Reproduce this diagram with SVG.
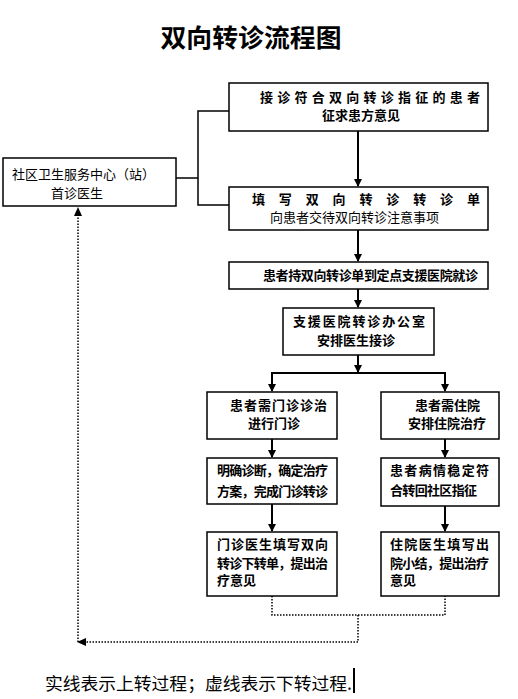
<svg xmlns="http://www.w3.org/2000/svg" width="518" height="699" viewBox="0 0 518 699">
<style>
.box{fill:#fff;stroke:#000;stroke-width:1.5}
.t{font-family:"Liberation Sans","Noto Sans CJK SC",sans-serif;font-size:13px;font-weight:bold;fill:#000;dominant-baseline:central}
.ln{fill:none;stroke:#000;stroke-width:1.5}
.ar{fill:none;stroke:#000;stroke-width:2}
.dt{fill:none;stroke:#000;stroke-width:1.5;stroke-dasharray:1.5 1.5}
</style>
<defs>
<marker id="ah" markerWidth="8" markerHeight="8" refX="7" refY="4" orient="auto" markerUnits="userSpaceOnUse">
<path d="M0,0 L8,4 L0,8 Z" fill="#000"/>
</marker>
</defs>
<rect width="518" height="699" fill="#fff"/>
<text x="251" y="36" text-anchor="middle" style="font-family:'Noto Sans CJK SC',sans-serif;font-size:25px;font-weight:bold;dominant-baseline:central" textLength="181" lengthAdjust="spacingAndGlyphs">双向转诊流程图</text>

<g id="connectors">
<polyline class="ln" points="176,178 198,178"/>
<polyline class="ln" points="229,111 198,111 198,205 229,205"/>
<line class="ar" x1="358" y1="131" x2="358" y2="186" marker-end="url(#ah)"/>
<line class="ar" x1="358" y1="230" x2="358" y2="261" marker-end="url(#ah)"/>
<line class="ar" x1="358" y1="289" x2="358" y2="307" marker-end="url(#ah)"/>
<line class="ar" x1="358" y1="355" x2="358" y2="372" marker-end="url(#ah)"/>
<polyline class="ar" points="272,391 272,373 445,373 445,391"/>
<line class="ar" x1="272" y1="380" x2="272" y2="391" marker-end="url(#ah)"/>
<line class="ar" x1="445" y1="380" x2="445" y2="391" marker-end="url(#ah)"/>
<line class="ar" x1="272" y1="439" x2="272" y2="457" marker-end="url(#ah)"/>
<line class="ar" x1="445" y1="439" x2="445" y2="457" marker-end="url(#ah)"/>
<line class="ar" x1="272" y1="504" x2="272" y2="531" marker-end="url(#ah)"/>
<line class="ar" x1="445" y1="506" x2="445" y2="531" marker-end="url(#ah)"/>
<polyline class="dt" points="272,596 272,615 445,615 445,596"/>
<polyline class="dt" points="358,615 358,642 79,642"/>
<path d="M86,638 L77,642 L86,646 Z" fill="#000"/>
<line class="dt" x1="78" y1="642" x2="78" y2="214"/>
<path d="M74,216 L78,207 L82,216 Z" fill="#000"/>
</g>

<g id="community">
<rect class="box" x="3" y="158" width="173" height="48"/>
<text class="t" x="12" y="174" style="font-weight:normal">社区卫生服务中心（站）</text>
<text class="t" x="77" y="193" text-anchor="middle" style="font-weight:normal">首诊医生</text>
</g>

<g id="n1">
<rect class="box" x="229" y="83" width="259" height="48"/>
<text class="t" x="260" y="97" textLength="220" lengthAdjust="spacing">接诊符合双向转诊指征的患者</text>
<text class="t" x="322" y="115">征求患方意见</text>
</g>

<g id="n2">
<rect class="box" x="229" y="187" width="259" height="43"/>
<text class="t" x="252" y="199" textLength="228" lengthAdjust="spacing">填写双向转诊转诊单</text>
<text class="t" x="270" y="217" style="font-weight:normal">向患者交待双向转诊注意事项</text>
</g>

<g id="n3">
<rect class="box" x="229" y="262" width="259" height="27"/>
<text class="t" x="263" y="275" textLength="215" lengthAdjust="spacing">患者持双向转诊单到定点支援医院就诊</text>
</g>

<g id="n4">
<rect class="box" x="283" y="308" width="151" height="47"/>
<text class="t" x="293" y="321" textLength="132" lengthAdjust="spacing">支援医院转诊办公室</text>
<text class="t" x="317" y="340">安排医生接诊</text>
</g>

<g id="n5">
<rect class="box" x="207" y="392" width="130" height="47"/>
<text class="t" x="230" y="405" textLength="97" lengthAdjust="spacing">患者需门诊诊治</text>
<text class="t" x="248" y="423">进行门诊</text>
</g>

<g id="n6">
<rect class="box" x="381" y="392" width="118" height="47"/>
<text class="t" x="415" y="405">患者需住院</text>
<text class="t" x="408" y="423">安排住院治疗</text>
</g>

<g id="n7">
<rect class="box" x="207" y="458" width="130" height="46"/>
<text class="t" x="217" y="470" textLength="111" lengthAdjust="spacing">明确诊断，确定治疗</text>
<text class="t" x="217" y="491" textLength="111" lengthAdjust="spacing">方案，完成门诊转诊</text>
</g>

<g id="n8">
<rect class="box" x="381" y="458" width="118" height="48"/>
<text class="t" x="390" y="470" textLength="99" lengthAdjust="spacing">患者病情稳定符</text>
<text class="t" x="390" y="490" textLength="87" lengthAdjust="spacing">合转回社区指征</text>
</g>

<g id="n9">
<rect class="box" x="207" y="532" width="130" height="64"/>
<text class="t" x="217" y="544" textLength="111" lengthAdjust="spacing">门诊医生填写双向</text>
<text class="t" x="217" y="563" textLength="111" lengthAdjust="spacing">转诊下转单，提出治</text>
<text class="t" x="217" y="580">疗意见</text>
</g>

<g id="n10">
<rect class="box" x="381" y="532" width="118" height="64"/>
<text class="t" x="390" y="544" textLength="99" lengthAdjust="spacing">住院医生填写出</text>
<text class="t" x="390" y="563" textLength="99" lengthAdjust="spacing">院小结，提出治疗</text>
<text class="t" x="390" y="580">意见</text>
</g>

<text x="45" y="682" style="font-family:'Noto Sans CJK SC',sans-serif;font-size:17.5px;dominant-baseline:central" textLength="307" lengthAdjust="spacingAndGlyphs">实线表示上转过程；虚线表示下转过程.</text>
<rect x="353" y="668" width="2" height="25" fill="#000"/>
</svg>
